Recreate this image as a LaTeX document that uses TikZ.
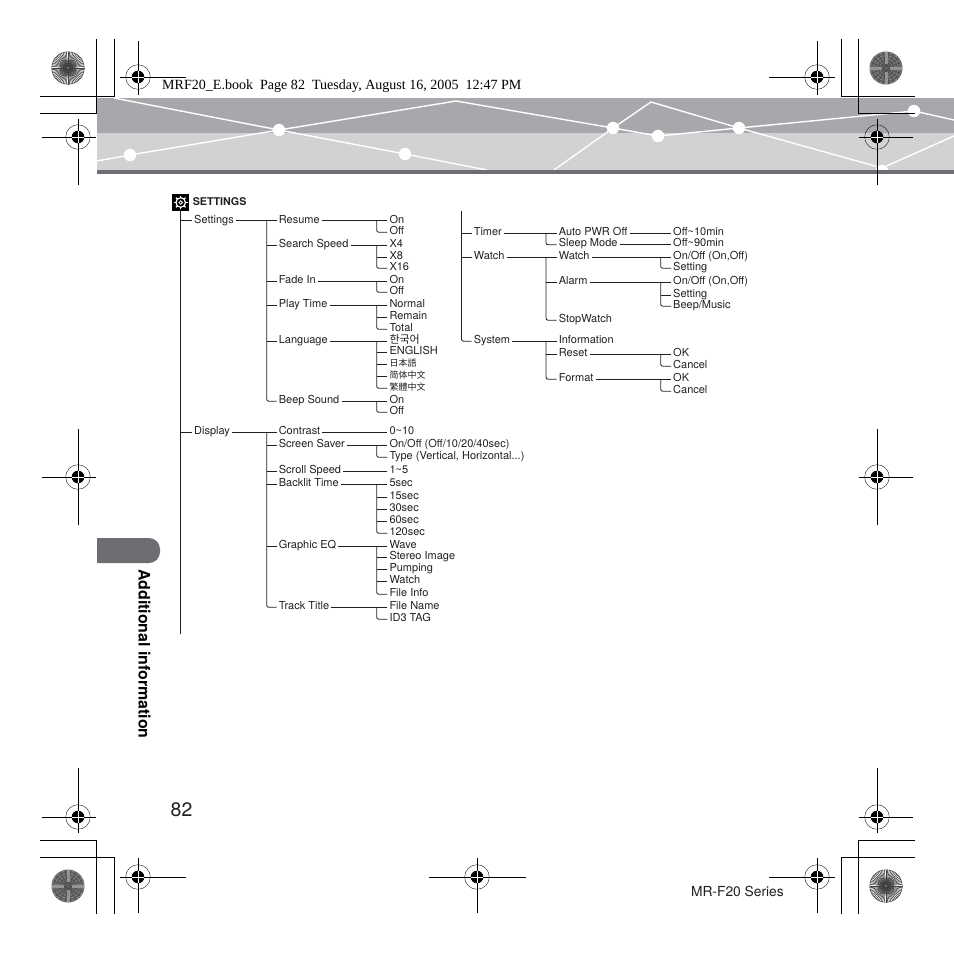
\documentclass[tikz,border=0pt]{standalone}
\usepackage{fontspec}
\setmainfont{TeX Gyre Heros}
\newfontfamily\headfont{Liberation Serif}
\newfontfamily\krfont{Noto Sans CJK KR}
\newfontfamily\jpfont{Noto Sans CJK JP}
\newfontfamily\scfont{Noto Sans CJK SC}
\newfontfamily\tcfont{Noto Sans CJK TC}
\definecolor{bandDark}{HTML}{A7A8AB}
\definecolor{bandLight}{HTML}{D1D2D4}
\definecolor{bandEdge}{HTML}{6D6E71}
\definecolor{inkText}{HTML}{231F20}
% registration mark: x, y, left end, right end, top end, bottom end
\newcommand{\regmark}[6]{%
  \draw[line width=.9pt] (#3,#2) -- (#4,#2) (#1,#5) -- (#1,#6);
  \draw[line width=.35pt] (#1,#2) circle [radius=12.3pt];
  \fill (#1,#2) circle [radius=6.3pt];
  \draw[white,line width=.6pt] (#1-6.3,#2) -- (#1+6.3,#2) (#1,#2-6.3) -- (#1,#2+6.3);
}
% corner discs
\newcommand{\spokedisc}[2]{%
  \fill[white] (#1,#2) circle [radius=16.5pt];
  \fill[gray!45] (#1,#2) circle [radius=8pt];
  \foreach \a in {0,6,...,354}
    \draw[line width=.6pt,black!75] (#1,#2) ++(\a:1.5) -- ++(\a:15);
  \draw[line width=.5pt,black!70] (#1,#2) circle [radius=16.2pt];
  \fill[black!80] (#1,#2) circle [radius=1pt];
}
\newcommand{\weavedisc}[2]{%
  \fill[black!62] (#1,#2) circle [radius=16.5pt];
  \foreach \r in {3.5,6.5,9.5,12.5,15.5}
    \draw[black!48,line width=.8pt] (#1,#2) circle [radius=\r pt];
  \foreach \a in {0,20,...,340}
    \draw[black!75,line width=.5pt] (#1,#2) ++(\a:2) -- ++(\a:14);
  \foreach \a in {0,90,180,270}
    \draw[black!42,line width=3pt] (#1,#2) ++(\a:4) -- ++(\a:12);
}
% parent line, bus and ticks: parent, bus, upper children, last child
\newcommand{\branch}[4]{%
  \draw[tree line] (#1.east) -- (#1.east -| #2);
  \draw[tree line,rounded corners=2pt] (#1.east -| #2) |- (#4.west);
  \foreach \kid in {#3}
    \draw[tree line] (\kid.west) -- (\kid.west -| #2);
}
\begin{document}
\begin{tikzpicture}[x=1pt,y=-1pt,
  tree line/.style={line width=.85pt,inkText},
  crop line/.style={line width=.9pt},
  white line/.style={white,line width=1.4pt},
  dot/.style={white,radius=6.2pt},
  menu node/.style={anchor=west,xshift=-.7pt,yshift=-1.2pt,inner xsep=2pt,inner ysep=0pt,text height=7.2pt,text depth=2.8pt,text=inkText,font=\fontsize{11}{12}\selectfont},
  small cjk/.style={font=\fontsize{9}{12}\selectfont}]
\useasboundingbox (0,0) rectangle (954,954);

% header band
\fill[bandDark] (97,98) rectangle (954,133);
\fill[bandLight] (97,133) rectangle (954,170);
\begin{scope}
\clip (97,98) rectangle (954,170);
\draw[white line] (114,98) -- (279,130) -- (405,154) -- (487,170);
\draw[white line] (97,161) -- (130,155) -- (279,130) -- (456,101) -- (613,128) -- (658,136) -- (739,128) -- (914,111) -- (954,120);
\draw[white line] (554,170) -- (613,128) -- (651,102) -- (739,128) -- (882,168) -- (954,136);
\foreach \px/\py in {130/155,279/130,405/154,613/128,658/136,739/128,914/111,882/171}
  \fill[dot] (\px,\py) circle;
\end{scope}
\fill[bandEdge] (97,170) rectangle (954,174);

% crop lines
\draw[crop line] (96.3,39) -- (96.3,113.3) -- (40,113.3);
\draw[crop line] (114.3,39) -- (114.3,96.3) -- (40,96.3);
\draw[crop line] (841,39) -- (841,96.3) -- (915,96.3);
\draw[crop line] (858,39) -- (858,113.3) -- (915,113.3);
\draw[crop line] (40,840) -- (96.3,840) -- (96.3,914);
\draw[crop line] (40,857) -- (114.3,857) -- (114.3,914);
\draw[crop line] (915,857) -- (841,857) -- (841,914);
\draw[crop line] (915,840) -- (858,840) -- (858,914);

\regmark{138}{77}{120}{186}{41}{95}
\regmark{78}{137}{42}{96}{119}{185}
\regmark{817}{77}{769}{835}{41}{95}
\regmark{877}{137}{859}{913}{119}{185}
\regmark{78}{477}{42}{96}{429}{525}
\regmark{877}{477}{859}{913}{429}{525}
\regmark{78}{817}{42}{96}{768}{833}
\regmark{877}{817}{859}{913}{768}{833}
\regmark{138}{877}{120}{186}{858}{913}
\regmark{477}{877}{429}{526}{858}{913}
\regmark{817}{877}{769}{835}{858}{913}

\spokedisc{68}{68}
\weavedisc{886}{68}
\weavedisc{68}{886}
\spokedisc{886}{886}

\node[anchor=west,inner sep=0pt,font=\headfont\fontsize{14.05}{16}\selectfont,text=black] (bookline) at (162,86.3) {MRF20\_E.book\ \ Page 82\ \ Tuesday, August 16, 2005\ \ 12:47 PM};

% side tab
\fill[bandEdge,rounded corners=11pt] (97,538) -- (160,538) -- (160,563) -- (97,563);
\node[rotate=-90,inner sep=0pt,text=black,font=\bfseries\fontsize{15.9}{18}\selectfont] (tabtext) at (144.5,654) {Additional information};
\node[anchor=west,inner sep=0pt,text=inkText,font=\fontsize{19.5}{22}\selectfont] (pagenum) at (170.5,810) {82};
\node[anchor=east,inner sep=0pt,text=inkText,font=\fontsize{13.8}{16}\selectfont] (series) at (784,891) {MR-F20 Series};

% title
\node[fill=black,minimum size=17pt,inner sep=0pt] (icon) at (180.7,202.5) {};
\draw[white,line width=1.2pt] (icon.center) circle [radius=4.8pt];
\draw[white,line width=.8pt] (icon.center) circle [radius=1.8pt];
\foreach \a in {0,45,...,315}
  \draw[white,line width=1.3pt] (icon.center) ++(\a:4.6) -- ++(\a:2.2);
\node[menu node,inner xsep=0pt,font=\bfseries\fontsize{10.7}{12}\selectfont] (title) at (193.3,202) {SETTINGS};

% left tree
\coordinate (leftend) at (180.7,634);
\coordinate (bustwo) at (266.7,0);
\coordinate (busthree) at (376.7,0);
\begin{scope}[every node/.style={menu node}]
\node (settings) at (192.7,219.7) {Settings};
\node (display) at (192.7,431) {Display};

\node (resume) at (277.3,219.7) {Resume};
\node (search) at (277.3,244) {Search Speed};
\node (fadein) at (277.3,280) {Fade In};
\node (playtime) at (277.3,304) {Play Time};
\node (language) at (277.3,340) {Language};
\node (beep) at (277.3,400) {Beep Sound};
\node (contrast) at (277.3,431) {Contrast};
\node (saver) at (277.3,444) {Screen Saver};
\node (scroll) at (277.3,470) {Scroll Speed};
\node (backlit) at (277.3,483.5) {Backlit Time};
\node (eq) at (277.3,545) {Graphic EQ};
\node (track) at (277.3,606) {Track Title};

\node (resumeon) at (388,219.7) {On};
\node (resumeoff) at (388,231) {Off};
\node (xfour) at (388,244) {X4};
\node (xeight) at (388,256) {X8};
\node (xsixteen) at (388,267) {X16};
\node (fadeon) at (388,280) {On};
\node (fadeoff) at (388,291) {Off};
\node (normal) at (388,304) {Normal};
\node (remain) at (388,316) {Remain};
\node (total) at (388,328) {Total};
\node (korean) at (388,340) {\krfont 한국어};
\node (english) at (388,351) {ENGLISH};
\node[small cjk] (japanese) at (388,363) {\jpfont 日本語};
\node[small cjk] (simplified) at (388,375) {\scfont 简体中文};
\node[small cjk] (traditional) at (388,387) {\tcfont 繁體中文};
\node (beepon) at (388,400) {On};
\node (beepoff) at (388,411) {Off};
\node (range) at (388,431) {0\textasciitilde10};
\node (saveron) at (388,444) {On/Off (Off/10/20/40sec)};
\node (savertype) at (388,456) {Type (Vertical, Horizontal...)};
\node (onefive) at (388,470) {1\textasciitilde5};
\node (fivesec) at (388,483.5) {5sec};
\node (fifteen) at (388,496) {15sec};
\node (thirty) at (388,508) {30sec};
\node (sixty) at (388,520) {60sec};
\node (hundred) at (388,532) {120sec};
\node (wave) at (388,545) {Wave};
\node (stereo) at (388,556) {Stereo Image};
\node (pumping) at (388,568) {Pumping};
\node (eqwatch) at (388,580) {Watch};
\node (fileinfo) at (388,593) {File Info};
\node (filename) at (388,606) {File Name};
\node (idtag) at (388,618) {ID3 TAG};
\end{scope}

\draw[tree line] (icon.south) -- (leftend);
\foreach \top in {settings,display}
  \draw[tree line] (\top.west) -- (\top.west -| leftend);
\branch{settings}{bustwo}{resume,search,fadein,playtime,language}{beep}
\branch{display}{bustwo}{contrast,saver,scroll,backlit,eq}{track}
\branch{resume}{busthree}{resumeon}{resumeoff}
\branch{search}{busthree}{xfour,xeight}{xsixteen}
\branch{fadein}{busthree}{fadeon}{fadeoff}
\branch{playtime}{busthree}{normal,remain}{total}
\branch{language}{busthree}{korean,english,japanese,simplified}{traditional}
\branch{beep}{busthree}{beepon}{beepoff}
\draw[tree line] (contrast) -- (range);
\branch{saver}{busthree}{saveron}{savertype}
\draw[tree line] (scroll) -- (onefive);
\branch{backlit}{busthree}{fivesec,fifteen,thirty,sixty}{hundred}
\branch{eq}{busthree}{wave,stereo,pumping,eqwatch}{fileinfo}
\branch{track}{busthree}{filename}{idtag}

% right tree
\coordinate (righttop) at (461.5,211);
\coordinate (busfour) at (546,0);
\coordinate (busfive) at (660.7,0);
\begin{scope}[every node/.style={menu node}]
\node (timer) at (472.3,232) {Timer};
\node (watchtop) at (472.3,256) {Watch};
\node (system) at (472.3,340) {System};

\node (autopwr) at (557.3,232) {Auto PWR Off};
\node (sleep) at (557.3,243.5) {Sleep Mode};
\node (watch) at (557.3,256) {Watch};
\node (alarm) at (557.3,281) {Alarm};
\node (stopwatch) at (557.3,319) {StopWatch};
\node (information) at (557.3,340) {Information};
\node (reset) at (557.3,353) {Reset};
\node (format) at (557.3,378) {Format};

\node (tenmin) at (671.7,232) {Off\textasciitilde10min};
\node (ninetymin) at (671.7,243.5) {Off\textasciitilde90min};
\node (watchon) at (671.7,256) {On/Off (On,Off)};
\node (watchset) at (671.7,267) {Setting};
\node (alarmon) at (671.7,281) {On/Off (On,Off)};
\node (alarmset) at (671.7,294) {Setting};
\node (alarmbeep) at (671.7,305) {Beep/Music};
\node (resetok) at (671.7,353) {OK};
\node (resetno) at (671.7,365) {Cancel};
\node (formatok) at (671.7,378) {OK};
\node (formatno) at (671.7,390) {Cancel};
\end{scope}

\draw[tree line,rounded corners=2pt] (righttop) |- (system.west);
\foreach \top in {timer,watchtop}
  \draw[tree line] (\top.west) -- (\top.west -| righttop);
\branch{timer}{busfour}{autopwr}{sleep}
\branch{watchtop}{busfour}{watch,alarm}{stopwatch}
\branch{system}{busfour}{information,reset}{format}
\draw[tree line] (autopwr) -- (tenmin);
\draw[tree line] (sleep) -- (ninetymin);
\branch{watch}{busfive}{watchon}{watchset}
\branch{alarm}{busfive}{alarmon,alarmset}{alarmbeep}
\branch{reset}{busfive}{resetok}{resetno}
\branch{format}{busfive}{formatok}{formatno}
\end{tikzpicture}
\end{document}
